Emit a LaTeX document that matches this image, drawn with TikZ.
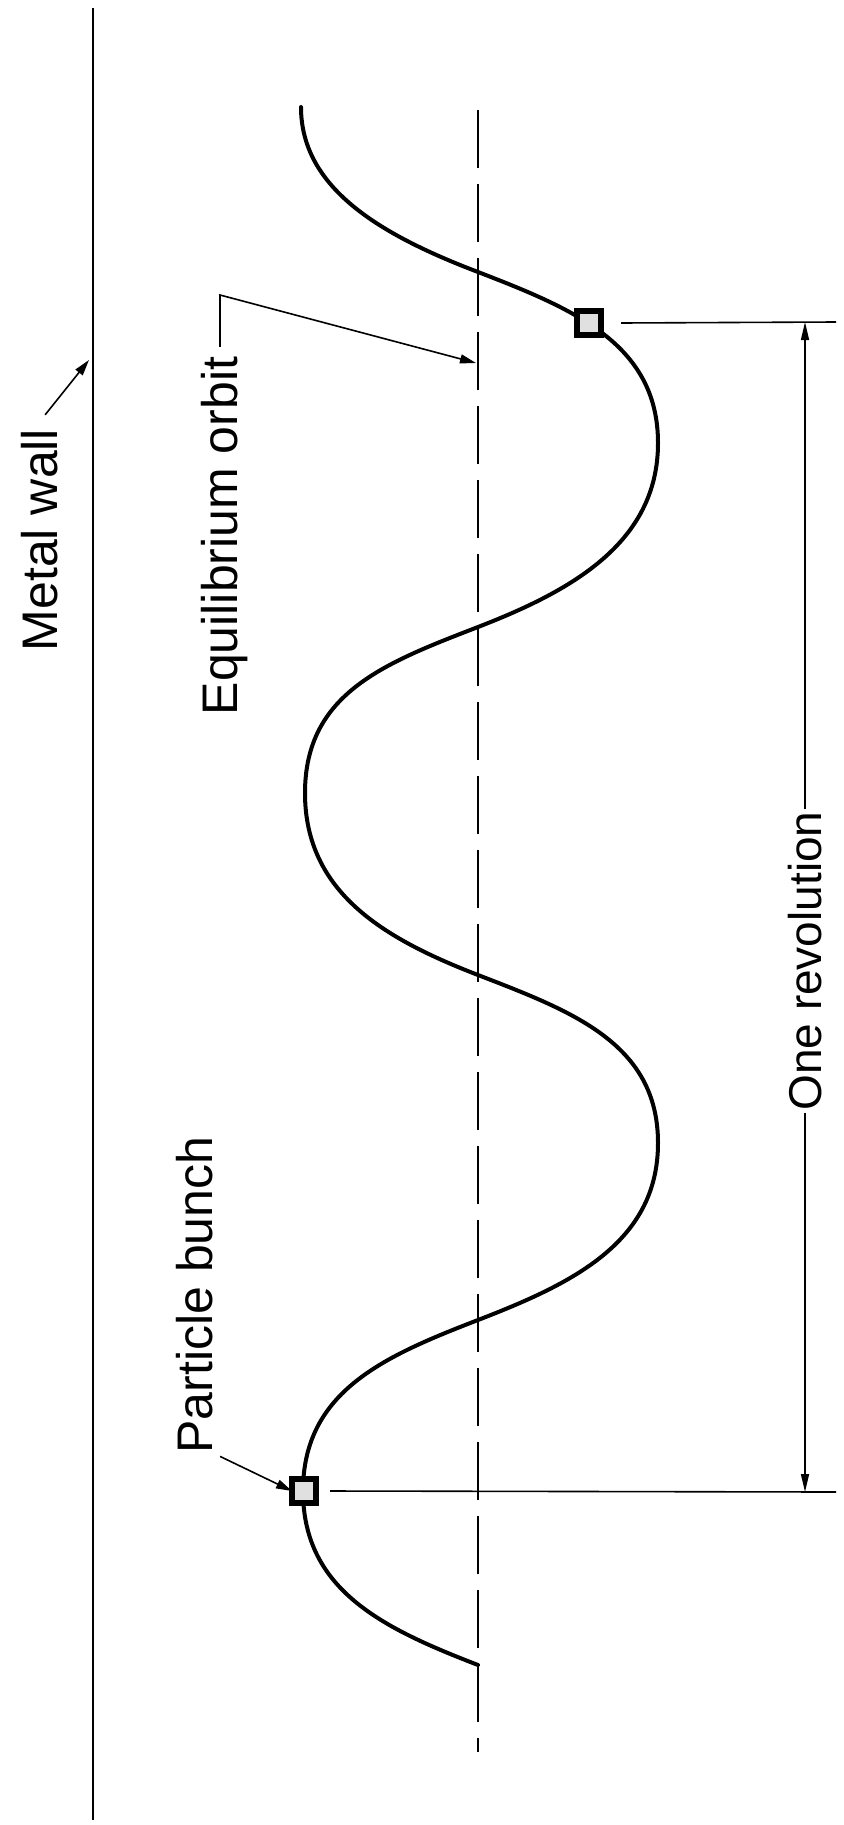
\documentclass[tikz,border=0pt]{standalone}
\usepackage{fontspec}
\setmainfont{Liberation Sans}
\usetikzlibrary{arrows.meta}

\begin{document}
\begin{tikzpicture}[x=.5pt, y=-.5pt,
    every node/.style={inner sep=0pt, outer sep=0pt},
    wallln/.style ={draw=black, line width=1.3pt},
    orbln/.style  ={draw=black, line width=1pt, dash pattern=on 29pt off 8pt},
    traj/.style   ={draw=black, line width=2pt, line join=round, line cap=round},
    bunch/.style  ={draw=black, fill=black!12, line width=3pt, minimum size=12pt},
    lbl/.style    ={rotate=90, anchor=base, font=\fontsize{25}{30}\selectfont},
    revlbl/.style ={rotate=90, fill=white, inner xsep=1pt, font=\fontsize{23}{28}\selectfont},
    extln/.style  ={draw=black, line width=.8pt},
    dimarr/.style ={-{Triangle[length=9pt,width=4pt]}, draw=black, line width=.8pt},
    leadln/.style ={-{Triangle[length=8pt,width=4.5pt]}, draw=black, line width=.8pt}]

\useasboundingbox (0,0) rectangle (844,1825);

% ── wall and equilibrium orbit ─────────────────────────────────────────
\coordinate (wallTop) at (93,8);
\coordinate (wallBot) at (93,1820);
\coordinate (orbTop)  at (478,110);
\coordinate (orbBot)  at (478,1752);
\draw[wallln] (wallTop) -- (wallBot);
\draw[orbln]  (orbTop) -- (orbBot);

% ── betatron oscillation about the orbit ───────────────────────────────
\draw[traj] (301,107)
  .. controls +(0,80) and +(-100,-38) .. (478,272)
  .. controls +(93,36) and +(0,-100)  .. (658,443)
  .. controls +(0,100) and +(93,-36)  .. (478,627)
  .. controls +(-93,36) and +(0,-100) .. (305,793)
  .. controls +(0,100) and +(-93,-36) .. (478,975)
  .. controls +(93,36) and +(0,-100)  .. (658,1143)
  .. controls +(0,100) and +(93,-36)  .. (478,1320)
  .. controls +(-93,36) and +(0,-100) .. (303,1491)
  .. controls +(0,100) and +(-93,-36) .. (478,1665);

\node[bunch] (bA) at (589,323) {};
\node[bunch] (bB) at (304,1491) {};

% ── labels ─────────────────────────────────────────────────────────────
\node[lbl] (mw) at (57,540)   {Metal wall};
\node[lbl] (eo) at (237,536)  {Equilibrium orbit};
\node[lbl] (pb) at (212,1295) {Particle bunch};

\coordinate (mwTip)  at (89,360);
\coordinate (eoKnee) at (220,295);
\coordinate (eoTip)  at (476,363);
\draw[leadln] ([shift={(6,-14)}]mw.east) -- (mwTip);
\draw[leadln] ([yshift=5pt]eoKnee |- eo.east) -- (eoKnee) -- (eoTip);
\draw[leadln] ([shift={(26,3)}]pb.west) -- (bB.west);

% ── one revolution ─────────────────────────────────────────────────────
\coordinate (dimTop)  at (805,322);
\coordinate (dimBot)  at (805,1492);
\coordinate (extTopR) at (836,322);
\coordinate (extBotR) at (836,1492);
\draw[extln] ([xshift=10pt]bA.east) -- (extTopR);
\draw[extln] ([xshift=7pt]bB.east) -- (extBotR);
\node[revlbl] (rev) at (805,961) {One revolution};
\draw[dimarr] (rev.east) -- (dimTop);
\draw[dimarr] (rev.west) -- (dimBot);
\end{tikzpicture}
\end{document}
